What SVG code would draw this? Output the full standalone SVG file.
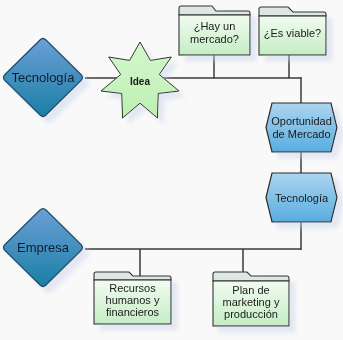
<svg xmlns="http://www.w3.org/2000/svg" width="343" height="340" viewBox="0 0 343 340">
<defs>
<linearGradient id="gDia" x1="0" y1="0" x2="0" y2="1"><stop offset="0" stop-color="#6c9fd6"/><stop offset="1" stop-color="#1a7fa5"/></linearGradient>
<linearGradient id="gHex" x1="0" y1="0" x2="0" y2="1"><stop offset="0" stop-color="#acd5ef"/><stop offset="1" stop-color="#58ade0"/></linearGradient>
<linearGradient id="gFold" x1="0" y1="0" x2="0" y2="1"><stop offset="0" stop-color="#f2fbf1"/><stop offset="1" stop-color="#c4edc4"/></linearGradient>
<linearGradient id="gStar" x1="0" y1="0" x2="0" y2="1"><stop offset="0" stop-color="#d4f7cc"/><stop offset="1" stop-color="#bdf0b2"/></linearGradient>
<filter id="sh" x="-20%" y="-20%" width="150%" height="150%">
<feGaussianBlur in="SourceAlpha" stdDeviation="2"/>
<feOffset dx="6" dy="6" result="b"/>
<feFlood flood-color="#c9d2ec" flood-opacity="0.45"/>
<feComposite in2="b" operator="in"/>
<feMerge><feMergeNode/><feMergeNode in="SourceGraphic"/></feMerge>
</filter>
</defs>
<style>
.dia{fill:url(#gDia);stroke:#1d4a68;stroke-width:1.2}
.hex{fill:url(#gHex);stroke:#2b2b2b;stroke-width:1.2}
.back{fill:#dde8e5;stroke:#333;stroke-width:1.1}
.front{fill:url(#gFold);stroke:#333;stroke-width:1.1}
.star{fill:url(#gStar);stroke:#333;stroke-width:1}
.con{stroke:#3a3a3a;stroke-width:1.5;fill:none}
text{font-family:"Liberation Sans",Arial,sans-serif;text-anchor:middle;dominant-baseline:central;fill:#1a1a1a}
.big{font-size:13px;fill:#0f1e30}
.mid{font-size:11px}
.sm{font-size:11px}
</style>
<rect width="343" height="340" fill="#f9f9f9"/>
<g id="connectors">
<line class="con" x1="85" y1="78" x2="301" y2="78"/>
<line class="con" x1="214" y1="55" x2="214" y2="78"/>
<line class="con" x1="289" y1="55" x2="289" y2="78"/>
<line class="con" x1="301" y1="77" x2="301" y2="103"/>
<line class="con" x1="301" y1="152" x2="301" y2="173"/>
<line class="con" x1="301" y1="222" x2="301" y2="250"/>
<line class="con" x1="85" y1="249" x2="301" y2="249"/>
<line class="con" x1="140" y1="249" x2="140" y2="276"/>
<line class="con" x1="243" y1="249" x2="243" y2="275"/>
</g>
<g id="tecnologia1" filter="url(#sh)">
<path class="dia" d="M40,40 Q43,37 46,40 L81,74.5 Q84,77.5 81,80.5 L46,115 Q43,118 40,115 L5,80.5 Q2,77.5 5,74.5 Z"/>
<text class="big" x="43" y="77.5">Tecnología</text>
</g>
<g id="empresa" filter="url(#sh)">
<path class="dia" d="M40,210 Q43,207 46,210 L81,244.5 Q84,247.5 81,250.5 L46,285 Q43,288 40,285 L5,250.5 Q2,247.5 5,244.5 Z"/>
<text class="big" x="43" y="247.5">Empresa</text>
</g>
<g id="idea" filter="url(#sh)">
<polygon class="star" points="140,42 150.4,60.4 171.3,57 159.3,74.5 179,91 158.3,93.5 157.4,118 140,103.2 122.6,118 121.7,93.5 101,91 120.7,74.5 108.7,57 129.6,60.4"/>
<text x="140" y="81" style="font-size:10px;font-weight:bold">Idea</text>
</g>
<g id="hay-mercado" filter="url(#sh)">
<path class="back" d="M179,15 V8 Q179,6 181,6 H212 L216,11 H248 Q250,11 250,13 V15 Z"/>
<rect class="front" x="179" y="15" width="71" height="40"/>
<text class="sm" x="214.5" y="26">¿Hay un</text>
<text class="sm" x="214.5" y="39">mercado?</text>
</g>
<g id="es-viable" filter="url(#sh)">
<path class="back" d="M259,16 V9 Q259,7 261,7 H288 L293,12 H324 Q326,12 326,14 V16 Z"/>
<rect class="front" x="259" y="16" width="67" height="39"/>
<text class="sm" x="292.5" y="33">¿Es viable?</text>
</g>
<g id="oportunidad" filter="url(#sh)">
<polygon class="hex" points="266,127.5 272,103 331,103 337,127.5 331,152 272,152"/>
<text class="mid" x="301.5" y="120.5">Oportunidad</text>
<text class="mid" x="301.5" y="134">de Mercado</text>
</g>
<g id="tecnologia2" filter="url(#sh)">
<polygon class="hex" points="266,197.5 272,173 331,173 337,197.5 331,222 272,222"/>
<text class="mid" x="301.5" y="197.5">Tecnología</text>
</g>
<g id="recursos" filter="url(#sh)">
<path class="back" d="M94,280 V274 Q94,272 96,272 H129 L133,276 H169 Q171,276 171,278 V280 Z"/>
<rect class="front" x="94" y="280" width="77" height="44"/>
<text class="sm" x="132.5" y="288">Recursos</text>
<text class="sm" x="132.5" y="300">humanos y</text>
<text class="sm" x="132.5" y="312">financieros</text>
</g>
<g id="plan" filter="url(#sh)">
<path class="back" d="M213,281 V274 Q213,272 215,272 H247 L251,276 H287 Q289,276 289,278 V281 Z"/>
<rect class="front" x="213" y="281" width="76" height="45"/>
<text class="sm" x="251" y="290">Plan de</text>
<text class="sm" x="251" y="302">marketing y</text>
<text class="sm" x="251" y="314">producción</text>
</g>
</svg>
